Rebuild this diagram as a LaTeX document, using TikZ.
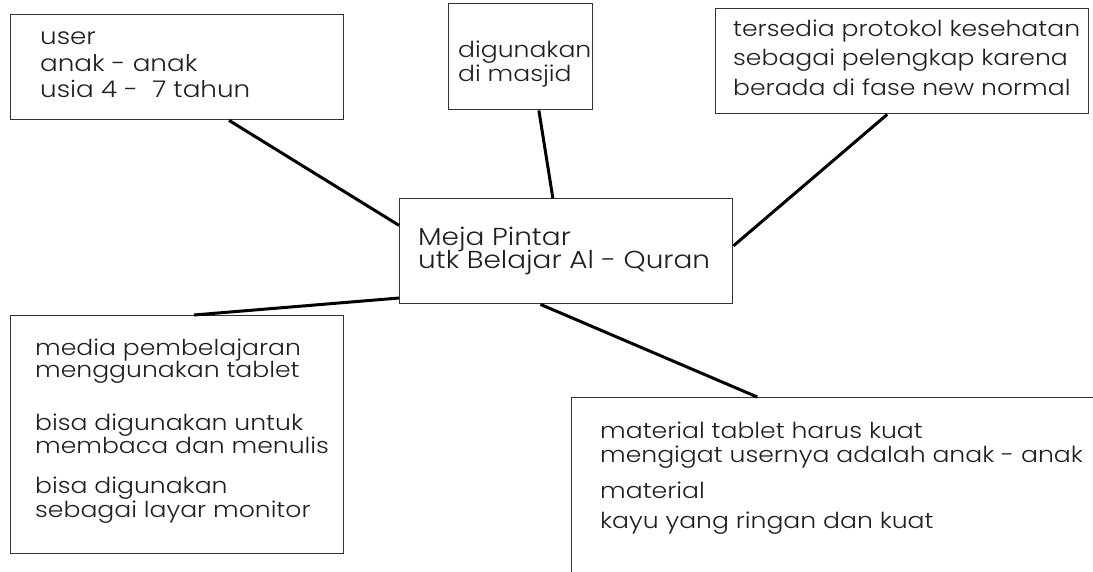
\documentclass[tikz,border=0pt]{standalone}
\usepackage{fontspec}
\setmainfont{Poppins}[UprightFont=* Light, FakeStretch=1.14]
\usetikzlibrary{calc}
\begin{document}
\begin{tikzpicture}[x=1pt,y=-1pt,
  box/.style={draw=black!80, line width=1.4pt, inner sep=0pt, anchor=north west, fill=white},
  link/.style={line width=3pt, black},
  tl/.style={anchor=base west, inner sep=0pt, text=black!88},
  fa/.style={font=\fontsize{23}{26}\selectfont},
  fm/.style={font=\fontsize{22}{25}\selectfont},
  fc/.style={font=\fontsize{24.5}{27}\selectfont}]
\clip (0,0) rectangle (1093,571);
\fill[white] (0,0) rectangle (1093,571);
% boxes
\node[box, minimum width=333pt, minimum height=105pt] (b1) at (10,14) {};
\node[box, minimum width=144pt, minimum height=106pt] (b2) at (448,3) {};
\node[box, minimum width=373pt, minimum height=105pt] (b3) at (715,8) {};
\node[box, minimum width=333pt, minimum height=105pt] (c) at (399,198) {};
\node[box, minimum width=333pt, minimum height=238pt] (b4) at (10,315) {};
\node[box, minimum width=540pt, minimum height=200pt] (b5) at (571,397) {};
% connectors
\draw[link] ($(b1.south west)!0.655!(b1.south east)$) -- ($(c.north west)!0.257!(c.south west)$);
\draw[link] ($(b2.south west)!0.625!(b2.south east)$) -- ($(c.north west)!0.46!(c.north east)$);
\draw[link] ($(b3.south west)!0.46!(b3.south east)$) -- ($(c.north east)!0.45!(c.south east)$);
\draw[link] ($(b4.north west)!0.55!(b4.north east)$) -- ($(c.north west)!0.94!(c.south west)$);
\draw[link] ($(b5.north west)!0.344!(b5.north east)$) -- ($(c.south west)!0.423!(c.south east)$);
% texts
\node[tl, fa] (t1a) at (40,44) {user};
\node[tl, fa] (t1b) at (40,71) {anak - anak};
\node[tl, fa] (t1c) at (40,97) {usia 4 -\ \ 7 tahun};
\node[tl, fm] (t2a) at (458,57) {digunakan};
\node[tl, fm] (t2b) at (458,81) {di masjid};
\node[tl, fm] (t3a) at (733,36) {tersedia protokol kesehatan};
\node[tl, fm] (t3b) at (733,65) {sebagai pelengkap karena};
\node[tl, fm] (t3c) at (733,95) {berada di fase new normal};
\node[tl, fc] (tca) at (418,245) {Meja Pintar};
\node[tl, fc] (tcb) at (418,268) {utk Belajar Al - Quran};
\node[tl, fm] (t4a) at (35,355) {media pembelajaran};
\node[tl, fm] (t4b) at (35,377) {menggunakan tablet};
\node[tl, fm] (t4c) at (35,430) {bisa digunakan untuk};
\node[tl, fm] (t4d) at (35,453) {membaca dan menulis};
\node[tl, fm] (t4e) at (35,493) {bisa digunakan};
\node[tl, fm] (t4f) at (35,517) {sebagai layar monitor};
\node[tl, fm] (t5a) at (600,438) {material tablet harus kuat};
\node[tl, fm] (t5b) at (600,462) {mengigat usernya adalah anak - anak};
\node[tl, fm] (t5c) at (600,498) {material};
\node[tl, fm] (t5d) at (600,528) {kayu yang ringan dan kuat};
\end{tikzpicture}
\end{document}
